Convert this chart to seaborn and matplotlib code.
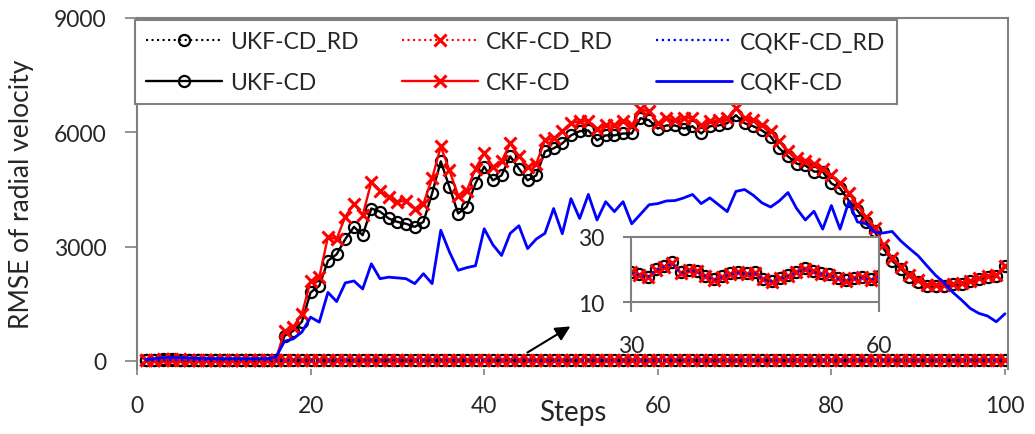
import numpy as np
import seaborn as sns
from matplotlib import pyplot as plt

''' Data '''
steps = list(range(1, 101))

ukf_cd = [30, 35, 40, 40, 38, 36, 35, 35, 34, 34, 33, 33, 33, 32, 32, 32,
          660, 790, 1030, 1800, 1970, 2630, 2800, 3200, 3520, 3300, 4000, 3920, 3740, 3650,
          3600, 3520, 3650, 4400, 5240, 4560, 3870, 4050, 4660, 5100, 4740, 4870, 5370, 5050,
          4740, 4870, 5500, 5580, 5710, 5920, 6030, 6050, 5790, 5920, 5920, 5970, 5970, 6370,
          6320, 6100, 6180, 6180, 6100, 6160, 5970, 6160, 6180, 6240, 6450, 6240, 6160, 6050,
          5890, 5580, 5370, 5180, 5130, 4970, 4970, 4660, 4530, 4210, 3950, 3660, 3400, 2950,
          2630, 2420, 2210, 2080, 1970, 1970, 1970, 2030, 2030, 2100, 2160, 2210, 2240, 2500]

ckf_cd = [32, 37, 42, 42, 40, 38, 37, 36, 35, 35, 34, 34, 34, 33, 33, 33,
          790, 890, 1240, 2100, 2200, 3260, 3200, 3790, 4130, 3820, 4700, 4470, 4300, 4180,
          4200, 4000, 4130, 4790, 5630, 5000, 4340, 4470, 5050, 5450, 5100, 5240, 5710, 5370,
          5100, 5180, 5790, 5840, 6030, 6240, 6290, 6290, 6100, 6180, 6180, 6290, 6180, 6600,
          6550, 6240, 6370, 6320, 6370, 6370, 6180, 6290, 6320, 6370, 6630, 6370, 6320, 6180,
          6030, 5760, 5500, 5320, 5260, 5180, 5050, 4870, 4660, 4400, 4100, 3780, 3500, 3050,
          2700, 2470, 2260, 2130, 2000, 2000, 2000, 2030, 2050, 2100, 2180, 2240, 2260, 2500]

cqkf_cd = [40, 60, 90, 95, 90, 80, 70, 65, 60, 60, 60, 60, 60, 60, 60, 100,
           520, 580, 760, 1150, 1020, 1800, 1560, 2050, 2100, 1890, 2550, 2160, 2200, 2180,
           2160, 2030, 2290, 2030, 3430, 2860, 2380, 2450, 2500, 3470, 3050, 2770, 3350, 3550,
           2950, 3200, 3350, 4000, 3340, 4260, 3740, 4370, 3700, 4180, 3920, 4180, 3600, 3850,
           4100, 4130, 4200, 4210, 4280, 4370, 4130, 4280, 4100, 3920, 4450, 4500, 4350, 4150,
           4040, 4200, 4420, 4000, 3700, 3930, 3460, 4080, 3460, 4180, 3650, 3600, 3380, 3360,
           3400, 3150, 2950, 2760, 2500, 2250, 2050, 1800, 1600, 1380, 1250, 1180, 1030, 1240]

ukf_rd = [19.5, 19.0, 20.2, 21.0, 20.5, 19.8, 19.0, 18.5, 19.2, 20.0, 20.6, 20.1, 19.4, 18.8, 18.2,
          18.9, 19.6, 20.3, 19.8, 19.1, 18.6, 19.2, 20.0, 20.4, 19.7, 19.0, 18.4, 18.9, 19.5,
          19.3, 18.6, 17.8, 20.1, 21.1, 22.2, 19.1, 19.9, 19.6, 18.1, 17.0, 17.9, 18.9, 19.3, 18.9,
          19.1, 17.2, 16.5, 17.5, 18.3, 19.3, 20.4, 19.6, 18.9, 18.6, 17.5, 16.8, 17.5, 17.8, 17.0, 18.1,
          18.9, 19.6, 20.2, 19.7, 19.0, 18.4, 18.8, 19.5, 20.1, 20.6, 20.0, 19.3, 18.7, 18.2, 18.8,
          19.4, 20.0, 20.5, 19.9, 19.2, 18.6, 19.0, 19.7, 20.3, 19.8, 19.1, 18.5, 18.1, 18.7, 19.4,
          20.1, 20.7, 20.2, 19.5, 18.9, 18.4, 19.0, 19.6, 20.2, 19.8]

ckf_rd = [19.3, 18.8, 20.0, 20.8, 20.4, 19.6, 18.9, 18.4, 19.0, 19.8, 20.4, 20.0, 19.3, 18.6, 18.1,
          18.7, 19.4, 20.1, 19.7, 19.0, 18.4, 19.0, 19.8, 20.2, 19.5, 18.9, 18.3, 18.7, 19.3,
          19.1, 18.4, 17.6, 19.9, 20.9, 21.9, 19.0, 19.7, 19.4, 17.9, 16.9, 17.7, 18.7, 19.1, 18.7,
          18.9, 17.0, 16.3, 17.3, 18.1, 19.1, 20.2, 19.4, 18.7, 18.4, 17.3, 16.6, 17.3, 17.6, 16.8, 17.9,
          18.7, 19.4, 20.0, 19.5, 18.8, 18.2, 18.6, 19.3, 19.9, 20.4, 19.8, 19.1, 18.5, 18.0, 18.6,
          19.2, 19.8, 20.3, 19.7, 19.0, 18.4, 18.8, 19.5, 20.1, 19.6, 18.9, 18.3, 17.9, 18.5, 19.2,
          19.9, 20.5, 20.0, 19.3, 18.7, 18.2, 18.8, 19.4, 20.0, 19.6]

cqkf_rd = [19.2, 18.8, 19.9, 20.7, 20.3, 19.5, 18.8, 18.3, 18.9, 19.7, 20.3, 19.9, 19.2, 18.5, 18.0,
           18.6, 19.3, 20.0, 19.6, 18.9, 18.3, 18.9, 19.7, 20.1, 19.4, 18.8, 18.2, 18.6, 19.2,
           19.0, 18.3, 17.6, 19.8, 20.8, 21.7, 18.9, 19.6, 19.3, 17.9, 16.8, 17.6, 18.6, 19.0, 18.6,
           18.8, 17.0, 16.3, 17.2, 18.0, 19.0, 20.1, 19.3, 18.6, 18.3, 17.2, 16.6, 17.2, 17.5, 16.8, 17.8,
           18.6, 19.3, 19.9, 19.4, 18.7, 18.1, 18.5, 19.2, 19.8, 20.3, 19.7, 19.0, 18.4, 17.9, 18.5,
           19.1, 19.7, 20.2, 19.6, 18.9, 18.3, 18.7, 19.4, 20.0, 19.5, 18.8, 18.2, 17.8, 18.4, 19.1,
           19.8, 20.4, 19.9, 19.2, 18.6, 18.1, 18.7, 19.3, 19.9, 19.5]

yticks = [0, 3000, 6000, 9000]
xticks = [0, 20, 40, 60, 80, 100]
inset_xticks = [30, 60]
inset_yticks = [10, 30]

''' Style '''
sns.set_style("white")
plt.rcParams['font.family'] = ['Lato', 'DejaVu Sans']
GRAY = '#808080'
FS = 16.5

series = [
       ('UKF-CD_RD', ukf_rd, dict(color='black', linestyle=':', linewidth=1.5, marker='o', markersize=8,
                                  markerfacecolor='none', markeredgecolor='black', markeredgewidth=1.6)),
       ('UKF-CD', ukf_cd, dict(color='black', linestyle='-', linewidth=1.7, marker='o', markersize=8,
                               markerfacecolor='none', markeredgecolor='black', markeredgewidth=1.6)),
       ('CKF-CD_RD', ckf_rd, dict(color='red', linestyle=':', linewidth=1.5, marker='x', markersize=9,
                                  markeredgecolor='red', markeredgewidth=2.2)),
       ('CKF-CD', ckf_cd, dict(color='red', linestyle='-', linewidth=1.7, marker='x', markersize=9,
                               markeredgecolor='red', markeredgewidth=2.2)),
       ('CQKF-CD_RD', cqkf_rd, dict(color='blue', linestyle=':', linewidth=1.6)),
       ('CQKF-CD', cqkf_cd, dict(color='blue', linestyle='-', linewidth=2)),
]

fig = plt.figure(figsize=(10.35, 4.35), dpi=100)
ax = fig.add_axes([137/1035, 65/435, 871/1035, 351/435])

for name, vals, kw in series:
       sns.lineplot(x=steps, y=vals, ax=ax, label=name, legend=False, **kw)

ax.set_xlim(0, 100.35)
ax.set_ylim(-210, 9000)
ax.set_xticks(xticks)
ax.set_yticks(yticks)
ax.tick_params(axis='x', direction='out', length=4, width=1.2, color=GRAY, pad=15, labelsize=FS, bottom=True)
ax.tick_params(axis='y', direction='out', length=9, width=1.2, color=GRAY, pad=13, labelsize=FS, left=True)
for side in ['top', 'left', 'right']:
       ax.spines[side].set_color(GRAY)
       ax.spines[side].set_linewidth(1.5)
ax.spines['bottom'].set_visible(False)

ax.set_xlabel('Steps', fontsize=20)
ax.set_ylabel('RMSE of radial velocity', fontsize=19)
ax.xaxis.set_label_coords(0.5, -0.085)
ax.yaxis.set_label_coords(-0.118, 0.5)

handles, labels = ax.get_legend_handles_labels()
leg = fig.legend(handles, labels, ncol=3, loc='upper left', bbox_to_anchor=(135/1035, 1 - 21/435),
                 borderaxespad=0, fontsize=FS, frameon=True, fancybox=False, handlelength=3.3,
                 handletextpad=0.35, columnspacing=1.9, labelspacing=0.85, borderpad=0.5)
leg.get_frame().set_edgecolor(GRAY)
leg.get_frame().set_linewidth(1.5)
leg.get_frame().set_alpha(1)

ax.annotate('', xy=(50.2, 945), xytext=(44.7, 184),
            arrowprops=dict(arrowstyle='-|>', color='black', lw=1.5, mutation_scale=22))

''' Inset '''
ins = fig.add_axes([631/1035, 132/435, 248/1035, 65/435])
ins.set_facecolor('white')
for name, vals, kw in series:
       if name.endswith('_RD'):
              sns.lineplot(x=steps[29:60], y=vals[29:60], ax=ins, legend=False, **kw)
ins.set_xlim(30, 60)
ins.set_ylim(10, 30)
ins.set_xticks(inset_xticks)
ins.set_yticks(inset_yticks)
ins.tick_params(axis='x', direction='out', length=7, width=1.5, color=GRAY, pad=17, labelsize=FS, bottom=True)
ins.tick_params(axis='y', direction='out', length=6, width=1.5, color=GRAY, pad=13, labelsize=FS, left=True)
for side in ins.spines:
       ins.spines[side].set_color(GRAY)
       ins.spines[side].set_linewidth(1.5)
ins.set_xlabel('')
ins.set_ylabel('')

fig.savefig('out.png', dpi=100)
